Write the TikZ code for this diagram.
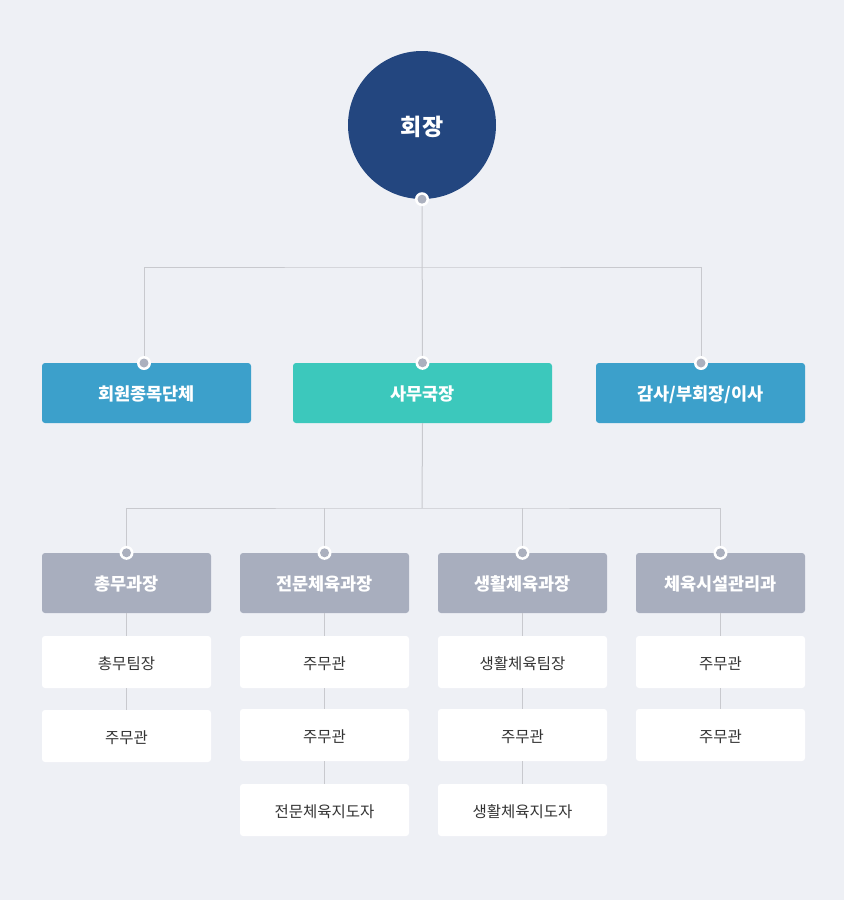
\documentclass[tikz,border=0pt]{standalone}
\usepackage{fontspec}
\setmainfont{Noto Sans CJK KR}
\usepackage{tikz}
\definecolor{bgcol}{HTML}{EEF0F5}
\definecolor{chiefcol}{HTML}{23467F}
\definecolor{bluecol}{HTML}{3CA0CB}
\definecolor{tealcol}{HTML}{3CC8BC}
\definecolor{greycol}{HTML}{A8AEBE}
\definecolor{linecol}{HTML}{C8C9CE}
\definecolor{dotcol}{HTML}{ABB0BE}
\definecolor{txtcol}{HTML}{333333}
\tikzset{
  chief/.style = {circle, fill=chiefcol, minimum size=148pt, inner sep=0pt,
    text height=22.3pt, text depth=0.7pt,
    text=white, font=\fontsize{23}{26}\selectfont\bfseries},
  topbox/.style = {rectangle, rounded corners=3pt, minimum height=60pt, inner sep=0pt,
    text height=16pt, text depth=1.5pt,
    text=white, font=\fontsize{17.5}{20}\selectfont\bfseries},
  deptbox/.style = {topbox, fill=greycol, minimum width=169pt},
  staffbox/.style = {rectangle, rounded corners=3pt, fill=white, minimum width=169pt,
    minimum height=52pt, inner sep=0pt, text height=14.8pt, text depth=0.7pt,
    text=txtcol, font=\fontsize{15.5}{18}\selectfont},
  link/.style = {draw=linecol, line width=1pt},
  joint/.pic = {
    \fill[white] (0,0) circle (7pt);
    \fill[dotcol] (0,0) circle (4.5pt);
  }
}

\begin{document}
\begin{tikzpicture}[x=1pt,y=-1pt]

  \fill[bgcol] (0,0) rectangle (846,900);
  \fill[white] (844,0) rectangle (846,900);
  \useasboundingbox (0,0) rectangle (846,900);

  \node[chief] (chair) at (422,125) {회장};

  \node[topbox, fill=bluecol, minimum width=209pt] (members) at (146.5,393) {회원종목단체};
  \node[topbox, fill=tealcol, minimum width=259pt] (secgen) at (422.5,393) {사무국장};
  \node[topbox, fill=bluecol, minimum width=209pt] (audit) at (700.5,393) {감사/부회장/이사};

  \node[deptbox] (gen) at (126.5,583) {총무과장};
  \node[deptbox] (pro) at (324.5,583) {전문체육과장};
  \node[deptbox] (life) at (522.5,583) {생활체육과장};
  \node[deptbox] (fac) at (720.5,583) {체육시설관리과};

  \node[staffbox] (gen1) at (126.5,662) {총무팀장};
  \node[staffbox] (gen2) at (126.5,736) {주무관};
  \node[staffbox] (pro1) at (324.5,662) {주무관};
  \node[staffbox] (pro2) at (324.5,735) {주무관};
  \node[staffbox] (pro3) at (324.5,810) {전문체육지도자};
  \node[staffbox] (life1) at (522.5,662) {생활체육팀장};
  \node[staffbox] (life2) at (522.5,735) {주무관};
  \node[staffbox] (life3) at (522.5,810) {생활체육지도자};
  \node[staffbox] (fac1) at (720.5,662) {주무관};
  \node[staffbox] (fac2) at (720.5,735) {주무관};

  \coordinate (split1) at (422,267);
  \coordinate (split2) at (422,508);
  \coordinate (memtop) at (144,363);
  \coordinate (audtop) at (701,363);

  % links from the chair
  \draw[link] (chair.south) -- (secgen.north);
  \draw[link] (memtop) |- (split1) -| (audtop);

  % links from the secretary general
  \draw[link] (secgen.south) -- (split2);
  \draw[link] (gen.north) |- (split2) -| (fac.north);
  \draw[link] (pro.north) -- (pro.north |- split2);
  \draw[link] (life.north) -- (life.north |- split2);

  \draw[link] (gen.south) -- (gen1.north) (gen1.south) -- (gen2.north);
  \draw[link] (pro.south) -- (pro1.north) (pro1.south) -- (pro2.north) (pro2.south) -- (pro3.north);
  \draw[link] (life.south) -- (life1.north) (life1.south) -- (life2.north) (life2.south) -- (life3.north);
  \draw[link] (fac.south) -- (fac1.north) (fac1.south) -- (fac2.north);

  \foreach \n in {chair.south, memtop, secgen.north, audtop,
                  gen.north, pro.north, life.north, fac.north}
    \path (\n) pic {joint};

\end{tikzpicture}
\end{document}
